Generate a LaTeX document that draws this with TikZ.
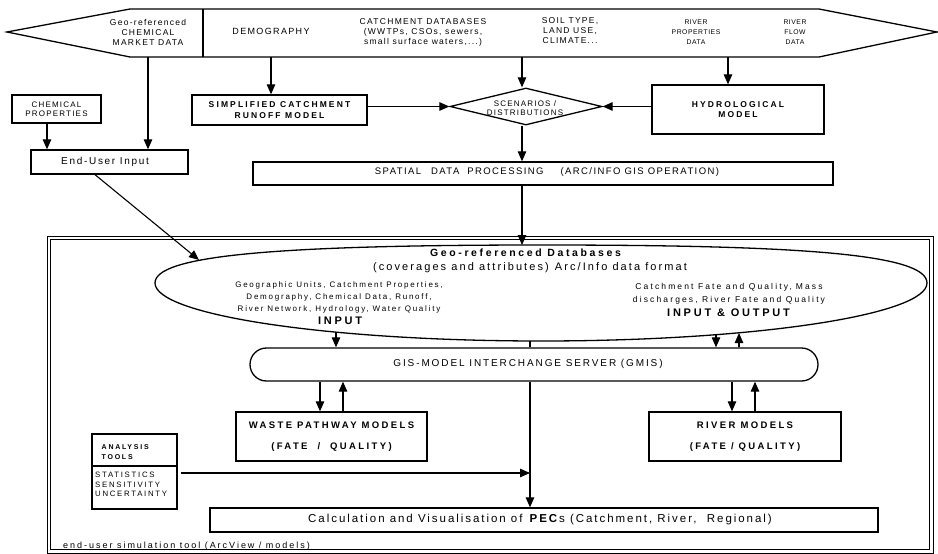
\documentclass[tikz,border=0pt]{standalone}
\usepackage{fontspec}
\setmainfont{Liberation Sans}
\newfontfamily\lse[LetterSpace=8]{Liberation Sans}
\newfontfamily\lsa[LetterSpace=15]{Liberation Sans}
\newfontfamily\lsf[LetterSpace=17]{Liberation Sans}
\newfontfamily\lsb[LetterSpace=19]{Liberation Sans}
\newfontfamily\lsc[LetterSpace=22]{Liberation Sans}
\newfontfamily\lsd[LetterSpace=25]{Liberation Sans}
\usetikzlibrary{arrows.meta,shapes.geometric}
\begin{document}
\begin{tikzpicture}[x=1pt,y=-1pt,
  box/.style={draw,line width=1.3pt,inner sep=0pt,align=center},
  arr/.style={line width=1.1pt,-{Triangle[length=10pt,width=8.5pt]}},
  ln/.style={line width=1.1pt},
  txt/.style={align=center,inner sep=0pt},
  md/.style={txt,font=\lsa\fontsize{8.5}{10}\selectfont},
  rv/.style={txt,font=\lse\fontsize{6.8}{10}\selectfont},
  bd/.style={txt,font=\lsd\bfseries\fontsize{8.5}{10.5}\selectfont},
  bm/.style={txt,font=\lsd\bfseries\fontsize{9.5}{11}\selectfont},
]
\useasboundingbox (0,0) rectangle (938,554);
% banner
\draw[line width=1.3pt] (7,32) -- (130,9) -- (819,9) -- (937,32) -- (819,57) -- (130,57) -- cycle;
\draw[line width=1.2pt] (203,9) -- (203,57);
\coordinate (bb) at (0,57);
\node[md] (mkt) at (148,32) {Geo-referenced\\CHEMICAL\\MARKET DATA};
\node[txt,font=\lsa\fontsize{9}{10}\selectfont] (demo) at (271,31) {DEMOGRAPHY};
\node[md] (catch) at (423,32) {CATCHMENT DATABASES\\(WWTPs, CSOs, sewers,\\small surface waters,...)};
\node[md] (soil) at (570,30.5) {SOIL TYPE,\\LAND USE,\\CLIMATE...};
\node[rv] (rpd) at (696,32) {RIVER\\PROPERTIES\\DATA};
\node[rv] (rfd) at (795,32) {RIVER\\FLOW\\DATA};

% upper boxes
\node[box,font=\lsa\fontsize{8}{9}\selectfont,minimum width=89pt,minimum height=28pt] (chp) at (56.5,109) {CHEMICAL\\PROPERTIES};
\node[box,minimum width=157pt,minimum height=24pt] (eui) at (109.5,162) {};
\node[txt,font=\lsf\fontsize{10}{12}\selectfont] (euit) at (105,162) {End-User Input};
\node[box,bd,minimum width=175pt,minimum height=30pt] (scr) at (279.5,110) {SIMPLIFIED CATCHMENT\\RUNOFF MODEL};
\node[box,bd,minimum width=172pt,minimum height=49pt] (hyd) at (738,109.5) {HYDROLOGICAL\\MODEL};
\node[draw,line width=1.3pt,diamond,inner sep=0pt,minimum width=152pt,minimum height=37pt] (diam) at (526,106.5) {};
\node[txt,font=\lsa\fontsize{8}{9}\selectfont] (diamt) at (525,108.5) {SCENARIOS /\\DISTRIBUTIONS};
\node[box,minimum width=580pt,minimum height=23pt] (spd) at (543,173.5) {};
\node[txt,font=\lsa\fontsize{9.5}{11}\selectfont] (spdt) at (547,172.5) {SPATIAL\hspace{10pt}DATA\hspace{8pt}PROCESSING\hspace{17pt}(ARC/INFO GIS OPERATION)};

% upper connectors
\draw[arr] (mkt |- bb) -- (mkt |- eui.north);
\draw[arr] (demo |- bb) -- (demo |- scr.north);
\draw[arr] ([xshift=-4pt]diam.north |- bb) -- ([xshift=-4pt]diam.north);
\draw[arr] ([xshift=-10pt]hyd.north |- bb) -- ([xshift=-10pt]hyd.north);
\draw[arr] ([xshift=-9.5pt]chp.south) -- ([xshift=-9.5pt]chp.south |- eui.north);
\draw[arr] (diam.west -| scr.east) -- (diam.west);
\draw[arr] (hyd.west |- diam.east) -- (diam.east);
\draw[arr] ([xshift=-4pt]diam.south) -- ([xshift=-4pt]diam.south |- spd.north);

% frame
\draw[line width=0.9pt] (47,236) rectangle (933,553);
\draw[line width=0.9pt] (50.5,239.5) rectangle (929.5,549.5);

% database ellipse
\draw[line width=1.3pt] (155,283) .. controls (155,256) and (271,245) .. (541,245)
  .. controls (800,245) and (927,254) .. (927,283)
  .. controls (927,315) and (754,341) .. (541,341)
  .. controls (328,341) and (155,315) .. (155,283) -- cycle;
\coordinate (dbT) at (522,245);
\coordinate (dbUL) at (199,260);
\coordinate (dbA) at (336,332);
\coordinate (dbM) at (530,341);
\coordinate (dbB) at (716,335);
\coordinate (dbC) at (739,333);
\node[txt,font=\lsd\bfseries\fontsize{10.5}{12}\selectfont] (dbt) at (525.5,253) {Geo-referenced Databases};
\node[txt,font=\lsb\fontsize{11}{12}\selectfont] (dbs) at (530,268) {(coverages and attributes)\hspace{6pt}Arc/Info data format};
\node[txt,font=\lsc\fontsize{8}{12}\selectfont] (inl) at (339,297) {Geographic Units, Catchment Properties,\\Demography, Chemical Data, Runoff,\\River Network, Hydrology, Water Quality};
\node[txt,font=\lsd\bfseries\fontsize{11}{12}\selectfont] (inp) at (340,321) {INPUT};
\node[txt,font=\lsd\fontsize{8.5}{13}\selectfont] (inr) at (729,293.5) {Catchment Fate and Quality,\hspace{4pt}Mass\\discharges, River Fate and Quality};
\node[txt,font=\lsd\bfseries\fontsize{11}{12}\selectfont] (io) at (728.5,313) {INPUT \& OUTPUT};

\draw[arr] (spd.south -| dbT) -- (dbT);
\draw[arr] ([xshift=-14.5pt]eui.south) -- (dbUL);

% GMIS
\node[box,rounded corners=16.5pt,minimum width=568pt,minimum height=33pt] (gmis) at (534,364.5) {};
\node[txt,font=\lsb\fontsize{10}{12}\selectfont] (gmist) at (528,364) {GIS-MODEL INTERCHANGE SERVER (GMIS)};
\draw[arr] (dbA) -- (dbA |- gmis.north);
\draw[ln] (dbM) -- (dbM |- gmis.north);
\draw[arr] (dbB) -- (dbB |- gmis.north);
\draw[arr] (dbC |- gmis.north) -- (dbC);

% models
\node[box,bm,minimum width=191pt,minimum height=49pt] (wp) at (331.5,436.5) {WASTE PATHWAY MODELS\\[10pt](FATE\ \ /\ \ QUALITY)};
\node[box,bm,minimum width=192pt,minimum height=49pt] (rm) at (745,436.5) {RIVER MODELS\\[10pt](FATE / QUALITY)};
\draw[arr] ([xshift=-11.5pt]wp.north |- gmis.south) -- ([xshift=-11.5pt]wp.north);
\draw[arr] ([xshift=11.5pt]wp.north) -- ([xshift=11.5pt]wp.north |- gmis.south);
\draw[arr] ([xshift=-13pt]rm.north |- gmis.south) -- ([xshift=-13pt]rm.north);
\draw[arr] ([xshift=10pt]rm.north) -- ([xshift=10pt]rm.north |- gmis.south);

% PEC
\node[box,minimum width=668pt,minimum height=24pt] (pec) at (544,520) {};
\node[txt,font=\lsf\fontsize{11.5}{13}\selectfont] (pect) at (540,520) {Calculation and Visualisation of \textbf{PEC}s (Catchment, River,\ \ Regional)};
\coordinate (jn) at (530,473);
\draw[arr] (gmis.south -| jn) -- (jn |- pec.north);

% analysis tools
\node[box,minimum width=85pt,minimum height=75pt] (ana) at (134.5,471.5) {};
\coordinate (dv) at (0,466);
\draw[line width=1.3pt] (ana.west |- dv) -- (ana.east |- dv);
\node[txt,font=\lsd\bfseries\fontsize{7}{10}\selectfont,align=left,anchor=west] (anat) at (101.5,452) {ANALYSIS\\TOOLS};
\node[txt,font=\lsc\fontsize{7.8}{9.8}\selectfont,align=left,anchor=west] (anal) at (95,484.5) {STATISTICS\\SENSITIVITY\\UNCERTAINTY};
\draw[arr] ([xshift=3pt]ana.east |- jn) -- (jn);

\node[txt,font=\lsc\fontsize{9}{10}\selectfont,anchor=west] (eus) at (63,546) {end-user simulation tool (ArcView / models)};
\end{tikzpicture}
\end{document}
